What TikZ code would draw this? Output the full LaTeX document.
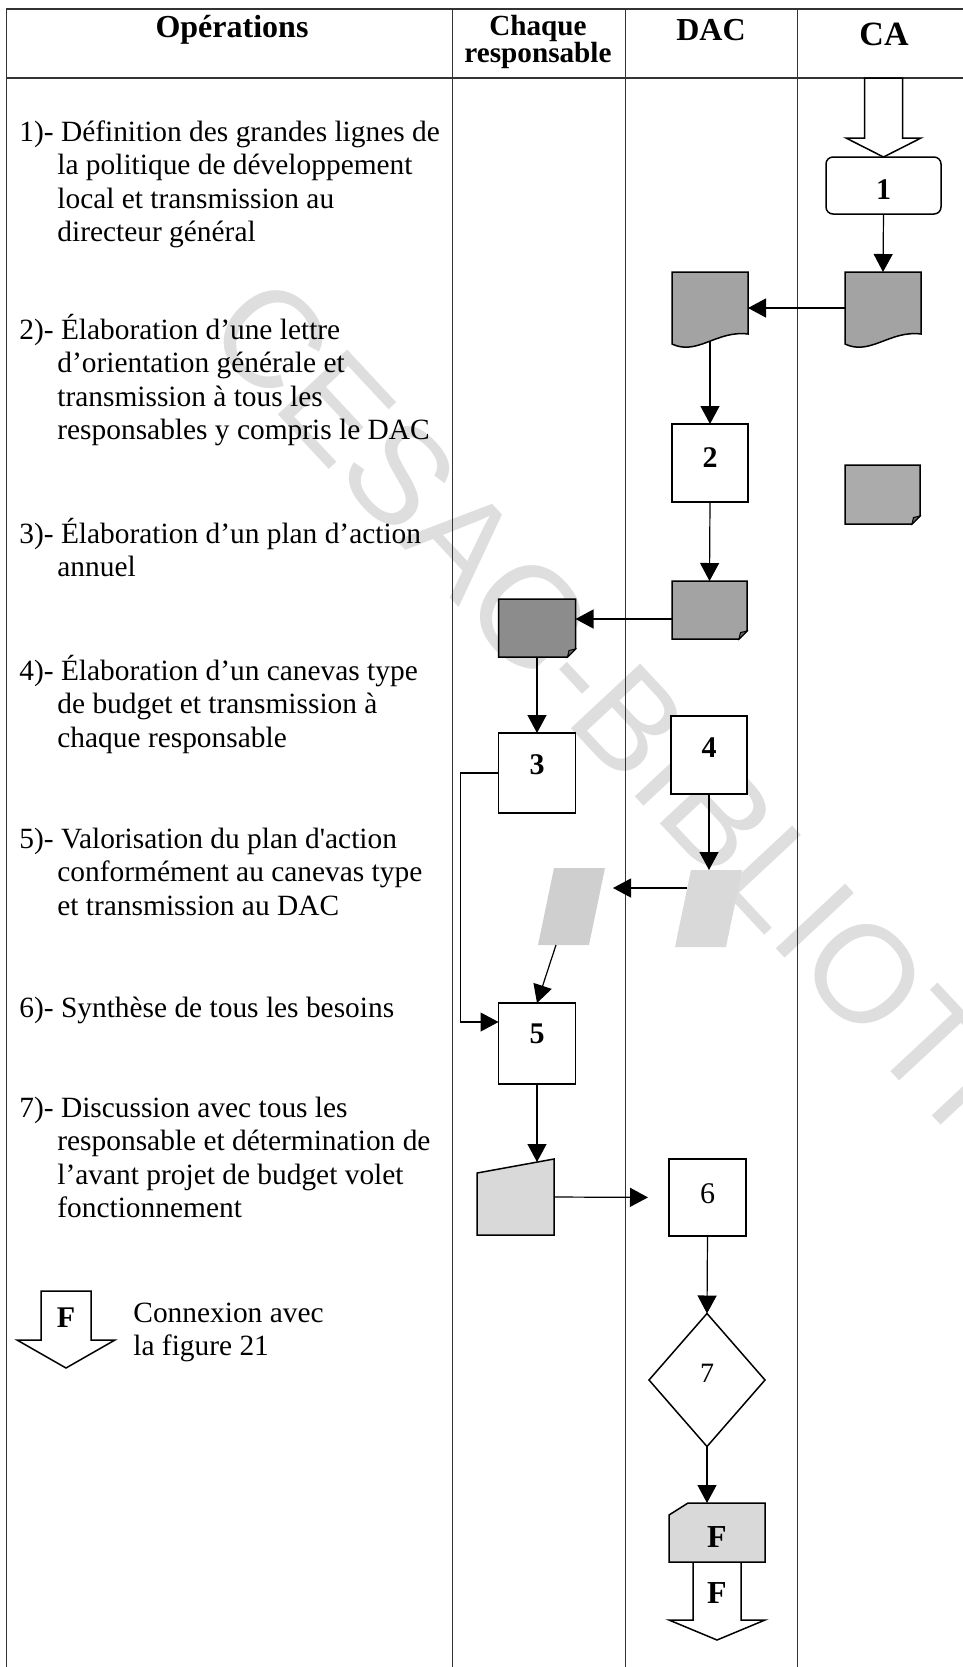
\documentclass[tikz,border=0pt]{standalone}
\usepackage{fontspec}
\setmainfont{Liberation Serif}
\newfontfamily\wmfont{Liberation Sans}
\usetikzlibrary{arrows.meta,calc}

% continuation indent of the numbered operations
\newcommand{\contind}{\hspace*{19pt}}

% document symbol with a wavy lower edge (node #1 is a 76x72 holder)
\newcommand{\drawdoc}[2]{%
  \filldraw[shapeline, fill=#2] (#1.north west) -- (#1.north east)
    -- ($(#1.north east)+(0,62)$)
    .. controls ($(#1.north west)+(45,58)$) and ($(#1.north west)+(25,84)$) ..
    ($(#1.north west)+(0,72)$) -- cycle;}

% note symbol with a folded lower right corner
\newcommand{\drawnote}[2]{%
  \filldraw[shapeline, fill=#2] (#1.north west) -- (#1.north east)
    -- ($(#1.south east)+(0,-8)$) -- ($(#1.south east)+(-8,0)$)
    -- (#1.south west) -- cycle;
  \filldraw[shapeline, line width=0.5pt, fill=black!60]
    ($(#1.south east)+(-8,0)$) -- ($(#1.south east)+(-6.5,-6.5)$)
    -- ($(#1.south east)+(0,-8)$) -- cycle;}

% slanted data symbol, stippled and without outline
\newcommand{\drawpara}[2]{%
  \fill[#2] ($(#1.north west)+(16,0)$) -- (#1.north east)
    -- ($(#1.south east)+(-16,0)$) -- (#1.south west) -- cycle;}

\tikzset{
  grid/.style={line width=0.5pt, draw=black!80},
  shapeline/.style={line width=0.75pt, draw=black, line join=miter},
  holder/.style={inner sep=0pt, outer sep=0pt},
  procbox/.style={holder, draw=black, line width=0.75pt, fill=white},
  numtext/.style={holder, font=\fontsize{15}{18}\selectfont\bfseries},
  arr/.style={draw=black, line width=0.6pt, -{Triangle[length=9pt,width=9.5pt]}},
  hollow/.style={draw=black, line width=0.75pt, fill=white, line join=miter},
  headtext/.style={font=\fontsize{16}{18}\selectfont\bfseries, inner sep=0pt},
  optext/.style={font=\fontsize{14.7}{16.75}\selectfont, inner sep=0pt, anchor=base west},
  watermark/.style={font=\wmfont\fontsize{69}{80}\selectfont, text=black!13, inner sep=0pt},
}

\begin{document}
\begin{tikzpicture}[x=0.5pt,y=-0.5pt]
\useasboundingbox (0,0) rectangle (963,1667);

% library stamp across the sheet
\begin{scope}
  \clip (0,0) rectangle (963,1667);
  \node[watermark, anchor=west, rotate=-47] (wm) at (228,309) {CESAG-BIBLIOTHEQUE};
\end{scope}

% table frame and swimlanes
\draw[grid, line width=0.9pt] (6,9) -- (963,9);
\draw[grid, line width=0.75pt] (6,78) -- (963,78);
\draw[grid] (6,9) -- (6,1667);
\foreach \cx in {452,625,797} \draw[grid] (\cx,9) -- (\cx,1667);

% column headings
\node[headtext] (hop) at (232,30) {Opérations};
\node[headtext, font=\fontsize{14.6}{13.6}\selectfont\bfseries, align=center] (hch) at (538,42) {Chaque\\responsable};
\node[headtext] (hdac) at (711,30) {DAC};
\node[headtext, font=\fontsize{17}{20}\selectfont\bfseries] (hca) at (884,34) {CA};

% list of operations
\node[optext] (op1) at (19,141) {\parbox[t]{215pt}{\raggedright
  1)- Définition des grandes lignes de\\\contind la politique de développement\\\contind local et transmission au\\\contind directeur général}};
\node[optext] (op2) at (19,339) {\parbox[t]{215pt}{\raggedright
  2)- Élaboration d’une lettre\\\contind d’orientation générale et\\\contind transmission à tous les\\\contind responsables y compris le DAC}};
\node[optext] (op3) at (19,543) {\parbox[t]{215pt}{\raggedright
  3)- Élaboration d’un plan d’action\\\contind annuel}};
\node[optext] (op4) at (19,680) {\parbox[t]{215pt}{\raggedright
  4)- Élaboration d’un canevas type\\\contind de budget et transmission à\\\contind chaque responsable}};
\node[optext] (op5) at (19,848) {\parbox[t]{215pt}{\raggedright
  5)- Valorisation du plan d\textquotesingle action\\\contind conformément au canevas type\\\contind et transmission au DAC}};
\node[optext] (op6) at (19,1017) {6)- Synthèse de tous les besoins};
\node[optext] (op7) at (19,1117) {\parbox[t]{215pt}{\raggedright
  7)- Discussion avec tous les\\\contind responsable et détermination de\\\contind l’avant projet de budget volet\\\contind fonctionnement}};

% legend: off-page connector
\node[holder] (legF) at (66,1318) {};
\filldraw[hollow] ($(legF)+(-25,-27)$) -- ($(legF)+(-25,22)$) -- ($(legF)+(-49,22)$)
  -- ($(legF)+(0,50)$) -- ($(legF)+(49,22)$) -- ($(legF)+(25,22)$) -- ($(legF)+(25,-27)$) -- cycle;
\node[numtext] (legFt) at (legF) {F};
\node[optext] (cx) at (133,1322) {\parbox[t]{215pt}{\raggedright Connexion avec\\la figure 21}};

% process boxes
\node[procbox, rounded corners=3.5pt, minimum width=57.5pt, minimum height=28.5pt] (b1) at (883.5,185.5) {};
\node[procbox, minimum width=38pt, minimum height=39pt] (b2) at (710,463) {};
\node[procbox, minimum width=38.5pt, minimum height=40pt] (b3) at (537,773) {};
\node[procbox, minimum width=38pt, minimum height=39pt] (b4) at (709,755) {};
\node[procbox, minimum width=38.5pt, minimum height=40.5pt] (b5) at (537,1043.5) {};
\node[procbox, minimum width=38.5pt, minimum height=38.5pt] (b6) at (707.5,1197.5) {};
\node[numtext] (b1t) at ($(b1)+(0,4)$) {1};
\node[numtext] (b2t) at ($(b2)+(0,-5)$) {2};
\node[numtext] (b3t) at ($(b3)+(0,-8)$) {3};
\node[numtext] (b4t) at ($(b4)+(0,-7)$) {4};
\node[numtext] (b5t) at ($(b5)+(0,-10)$) {5};
\node[numtext, font=\fontsize{15}{18}\selectfont] (b6t) at ($(b6)+(0,-4)$) {6};

% documents and notes
\node[holder, minimum width=38pt, minimum height=36pt] (cadoc) at (883,308) {};
\node[holder, minimum width=38pt, minimum height=36pt] (dacdoc) at (710,308) {};
\drawdoc{cadoc}{black!36}
\drawdoc{dacdoc}{black!36}

\node[holder, minimum width=37.5pt, minimum height=29.5pt] (canote) at (882.5,494.5) {};
\node[holder, minimum width=37.5pt, minimum height=29pt] (dacnote) at (709.5,610) {};
\node[holder, minimum width=38.5pt, minimum height=29pt] (chnote) at (537,628) {};
\drawnote{canote}{black!33}
\drawnote{dacnote}{black!36}
\drawnote{chnote}{black!45}

% data symbols
\node[holder, minimum width=33.5pt, minimum height=38.5pt] (dacpara) at (708.5,908.5) {};
\node[holder, minimum width=33.5pt, minimum height=38.5pt] (chpara) at (571.5,906.5) {};
\drawpara{dacpara}{black!15}
\drawpara{chpara}{black!19}

% manual input
\node[holder, minimum width=38.5pt, minimum height=38pt] (trap) at (515.5,1197) {};
\filldraw[shapeline, fill=black!15] (trap.south west) -- ($(trap.north west)+(0,14)$)
  -- (trap.north east) -- (trap.south east) -- cycle;

% decision
\node[holder, minimum width=58pt, minimum height=66.5pt] (d7) at (707,1380) {};
\draw[shapeline] (d7.north) -- (d7.east) -- (d7.south) -- (d7.west) -- cycle;
\node[holder, font=\fontsize{14}{16}\selectfont] (d7t) at ($(d7)+(0,-7)$) {7};

% off-page connector at the bottom of the DAC lane
\node[holder, minimum width=48pt, minimum height=29.5pt] (card) at (717,1532.5) {};
\filldraw[hollow] ($(card.south)+(-24,0)$) -- ($(card.south)+(-24,58)$) -- ($(card.south)+(-48,58)$)
  -- ($(card.south)+(0,78)$) -- ($(card.south)+(48,58)$) -- ($(card.south)+(24,58)$) -- ($(card.south)+(24,0)$);
\filldraw[shapeline, fill=black!15] ($(card.north west)+(0,12)$) -- ($(card.north west)+(19,0)$)
  -- (card.north east) -- (card.south east) -- (card.south west) -- cycle;
\node[holder, font=\fontsize{16}{18}\selectfont\bfseries] (cardt) at ($(card)+(0,5)$) {F};
\node[holder, font=\fontsize{16}{18}\selectfont\bfseries] (fout) at ($(card.south)+(0,31)$) {F};

% incoming arrow of the CA lane
\filldraw[hollow] ($(b1.north)+(-19,-79)$) -- ($(b1.north)+(-19,-19)$) -- ($(b1.north)+(-37.5,-19)$)
  -- (b1.north) -- ($(b1.north)+(37.5,-19)$) -- ($(b1.north)+(19,-19)$) -- ($(b1.north)+(19,-79)$) -- cycle;

% flow
\draw[arr] (b1.south) -- (cadoc.north);
\draw[arr] (cadoc.west) -- (dacdoc.east);
\draw[arr, shorten <=-1.5pt] (dacdoc.south) -- (b2.north);
\draw[arr] (b2.south) -- (dacnote.north);
\draw[arr] ($(dacnote.west)+(0,9)$) -- ($(chnote.east)+(0,-9)$);
\draw[arr] (chnote.south) -- (b3.north);
\draw[arr] (b3.west) -- ++(-38,0) |- ($(b5.west)+(0,-21.5)$);
\draw[arr] (b4.south) -- (b4.south |- dacpara.north);
\draw[arr] ($(dacpara.north west)+(11.5,18)$) -- ($(chpara.north east)+(8,20)$);
\draw[arr] ($(chpara.south west)+(18,0)$) -- (b5.north);
\draw[arr] (b5.south) -- ($(trap.north west)+(60,3)$);
\draw[arr, shorten >=10.5pt] (trap.east) -- (b6.west);
\draw[arr] (b6.south) -- (d7.north);
\draw[arr] (d7.south) -- (d7.south |- card.north);
\end{tikzpicture}
\end{document}
